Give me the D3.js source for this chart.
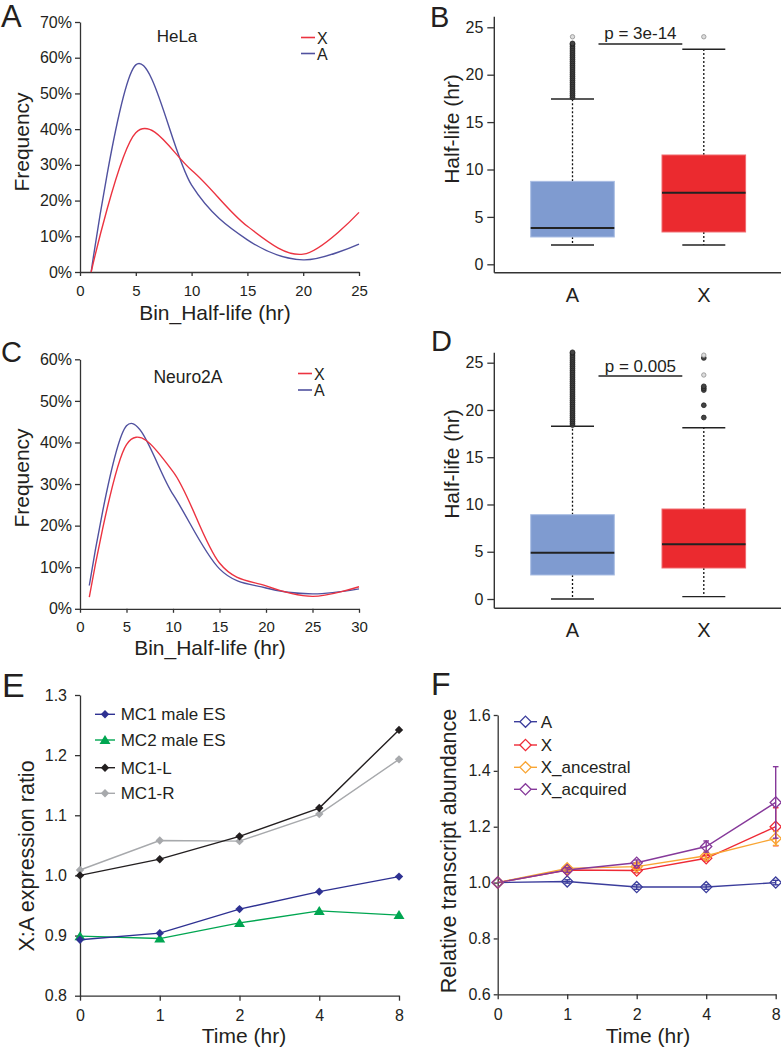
<!DOCTYPE html>
<html><head><meta charset="utf-8">
<script src="https://cdn.jsdelivr.net/npm/d3@7"></script>
<style>body{margin:0;background:#fff} svg{display:block}</style>
</head><body><svg id="c" width="781" height="1050"></svg>
<script>
// ---------- DATA ----------
// Panel A (HeLa) frequency curves
const helaBins = [1, 5, 10, 15, 20, 25];
const helaX = [0, 39, 28.5, 12.8, 5.0, 16.7];
const helaA = [0, 58, 24.3, 9.0, 3.4, 7.8];
const helaXTicks = [0, 5, 10, 15, 20, 25];
const helaYTicks = [0, 10, 20, 30, 40, 50, 60, 70];
// Panel C (Neuro2A)
const neuroBins = [1, 5, 10, 15, 20, 25, 30];
const neuroX = [2.8, 39.5, 33, 11, 5.5, 3.0, 5.3];
const neuroA = [5.6, 44, 27.5, 9.6, 5.0, 3.6, 4.8];
const neuroXTicks = [0, 5, 10, 15, 20, 25, 30];
const neuroYTicks = [0, 10, 20, 30, 40, 50, 60];
// Panel B box stats (A, X)
const boxGroups = ["A", "X"];
const hLow = [2.04, 2.04], hQ1 = [2.88, 3.41], hMed = [3.83, 7.56], hQ3 = [8.75, 11.53], hHigh = [17.44, 22.68];
const hOutA = [17.6,17.8,18.0,18.2,18.4,18.6,18.8,19.0,19.2,19.4,19.6,19.8,20.0,20.2,20.4,20.6,20.8,21.0,21.2,21.4,21.6,21.8,22.0,22.2,22.4,22.6,22.8,23.0,23.2,23.3];
const hOutALight = [24.0];
const hOutX = [];
const hOutXLight = [24.0];
const hP = 23.24, hPText = "p = 3e-14";
// Panel D box stats
const nLow = [0, 0.25], nQ1 = [2.54, 3.28], nMed = [4.9, 5.78], nQ3 = [8.92, 9.52], nHigh = [18.27, 18.12];
const nOutA = [18.4,18.6,18.8,19.0,19.2,19.4,19.6,19.8,20.0,20.2,20.4,20.6,20.8,21.0,21.2,21.4,21.6,21.8,22.0,22.2,22.4,22.6,22.8,23.0,23.2,23.4,23.6,23.8,24.0,24.2,24.4,24.6,24.8,25.0,25.2,25.4,25.6,25.8,26.0,26.1];
const nOutALight = [];
const nOutX = [19.2, 20.5, 22.1, 22.3, 22.5, 25.5];
const nOutXLight = [23.7, 25.8];
const nP = 23.59, nPText = "p = 0.005";
const boxYTicks = [0, 5, 10, 15, 20, 25];
// Panel E
const times = ["0", "1", "2", "4", "8"];
const eNames = ["MC1 male ES", "MC2 male ES", "MC1-L", "MC1-R"];
const mc1Male = [0.893, 0.904, 0.944, 0.973, 0.998];
const mc2Male = [0.899, 0.895, 0.921, 0.941, 0.934];
const mc1L = [1.000, 1.027, 1.065, 1.112, 1.242];
const mc1R = [1.009, 1.058, 1.057, 1.102, 1.193];
const eYTicks = [0.8, 0.9, 1.0, 1.1, 1.2, 1.3];
// Panel F
const fNames = ["A", "X", "X_ancestral", "X_acquired"];
const fA = [1.0, 1.004, 0.984, 0.984, 1.0];
const fX = [1.0, 1.045, 1.043, 1.087, 1.2];
const fXanc = [1.0, 1.051, 1.057, 1.096, 1.158];
const fXacq = [1.0, 1.045, 1.071, 1.129, 1.287];
const fAErr = [0, 0.006, 0.008, 0.008, 0.008];
const fXErr = [0, 0.008, 0.008, 0.01, 0.068];
const fXancErr = [0, 0.01, 0.01, 0.01, 0.025];
const fXacqErr = [0, 0.008, 0.01, 0.02, 0.128];
const fYTicks = [0.6, 0.8, 1.0, 1.2, 1.4, 1.6];

// ---------- STYLE ----------
const FONT = "'Liberation Sans', Arial, Helvetica, sans-serif";
const INK = "#231f20", AX = "#333";
const RED = "#ec3340", BLUE = "#50519f";
const svg = d3.select("#c");

function styleAxis(g, fs) {
  g.attr("font-family", FONT).attr("font-size", fs);
  g.selectAll("path.domain").attr("stroke", AX).attr("stroke-width", 1.3);
  g.selectAll(".tick line").attr("stroke", AX).attr("stroke-width", 1.3);
  g.selectAll(".tick text").attr("fill", INK);
}
function txt(x, y, s, fs, anchor) {
  return svg.append("text").attr("x", x).attr("y", y).text(s)
    .attr("font-family", FONT).attr("font-size", fs).attr("fill", INK)
    .attr("text-anchor", anchor || "start");
}
function vlabel(x, y, s, fs) {
  svg.append("text").attr("transform", `translate(${x},${y}) rotate(-90)`)
    .attr("text-anchor", "middle").attr("font-family", FONT).attr("font-size", fs)
    .attr("fill", INK).text(s);
}

// panel letters
txt(1, 27, "A", 31); txt(430, 27, "B", 29);
txt(1, 362, "C", 29); txt(431, 351, "D", 29);
txt(2, 697, "E", 34); txt(431, 695, "F", 32);

// ---------- FREQUENCY PANELS ----------
function freqPanel(o) {
  const x = d3.scaleLinear().domain(o.xDom).range(o.xRange);
  const y = d3.scaleLinear().domain(o.yDom).range(o.yRange);
  const gx = svg.append("g").attr("transform", `translate(0,${o.yRange[0]})`)
    .call(d3.axisBottom(x).tickValues(o.xTicks).tickSize(4).tickPadding(9).tickSizeOuter(0));
  styleAxis(gx, 15);
  const gy = svg.append("g").attr("transform", `translate(${o.xRange[0]},0)`)
    .call(d3.axisLeft(y).tickValues(o.yTicks).tickFormat(d => d + "%").tickSize(5).tickPadding(3).tickSizeOuter(0));
  styleAxis(gy, 16);
  const line = d3.line().x((d, i) => x(o.bins[i])).y(d => y(d)).curve(d3.curveCatmullRom.alpha(0));
  svg.append("path").attr("d", line(o.A)).attr("fill", "none").attr("stroke", BLUE).attr("stroke-width", 1.4);
  svg.append("path").attr("d", line(o.X)).attr("fill", "none").attr("stroke", RED).attr("stroke-width", 1.4);
  txt(o.title[0], o.title[1], o.titleText, o.titleFs, "middle");
  const L = o.legend;
  [["X", RED], ["A", BLUE]].forEach((s, i) => {
    const yy = L.y + i * L.dy;
    svg.append("line").attr("x1", L.x).attr("x2", L.x + 14).attr("y1", yy).attr("y2", yy)
      .attr("stroke", s[1]).attr("stroke-width", 1.6);
    txt(L.x + 16, yy + 6, s[0], 16);
  });
  txt(o.xlab[0], o.xlab[1], "Bin_Half-life (hr)", 21, "middle");
  vlabel(o.ylab[0], o.ylab[1], "Frequency", 21);
}
freqPanel({xDom: [0, 25], xRange: [80, 359], yDom: [0, 70], yRange: [272, 22],
  xTicks: helaXTicks, yTicks: helaYTicks, bins: helaBins, X: helaX, A: helaA,
  title: [177, 41.5], titleText: "HeLa", titleFs: 17, legend: {x: 301, y: 37.5, dy: 16},
  xlab: [215, 320], ylab: [28.5, 142]});
freqPanel({xDom: [0, 30], xRange: [80, 359], yDom: [0, 60], yRange: [608.8, 359.3],
  xTicks: neuroXTicks, yTicks: neuroYTicks, bins: neuroBins, X: neuroX, A: neuroA,
  title: [188, 383], titleText: "Neuro2A", titleFs: 17.5, legend: {x: 298, y: 373.5, dy: 16.5},
  xlab: [210, 655], ylab: [28.5, 478]});

// ---------- BOX PANELS ----------
function boxPanel(o) {
  const axX = 494.3;
  const y = d3.scaleLinear().domain([0, 25]).range(o.yRange);
  const x = d3.scalePoint().domain(boxGroups).range([572.5, 703.8]);
  const half = 41.8, cap = 21.5;
  const gy = svg.append("g").attr("transform", `translate(${axX},0)`)
    .call(d3.axisLeft(y).tickValues(boxYTicks).tickSize(7).tickPadding(4));
  gy.select("path.domain").remove();
  styleAxis(gy, 16);
  svg.append("line").attr("x1", axX).attr("x2", axX).attr("y1", o.top).attr("y2", o.bottom)
    .attr("stroke", AX).attr("stroke-width", 1.4);
  svg.append("line").attr("x1", axX).attr("x2", 781).attr("y1", o.bottom).attr("y2", o.bottom)
    .attr("stroke", AX).attr("stroke-width", 1.4);
  const fills = ["#7f9bd0", "#eb2a2f"], strokes = ["#a9bde3", "#f06a6e"];
  boxGroups.forEach((g, i) => {
    const cx = x(g);
    svg.append("line").attr("x1", cx).attr("x2", cx).attr("y1", y(o.q3[i])).attr("y2", y(o.high[i]))
      .attr("stroke", "#111").attr("stroke-width", 1.3).attr("stroke-dasharray", "2,2");
    svg.append("line").attr("x1", cx).attr("x2", cx).attr("y1", y(o.q1[i])).attr("y2", y(o.low[i]))
      .attr("stroke", "#111").attr("stroke-width", 1.3).attr("stroke-dasharray", "2,2");
    [o.high[i], o.low[i]].forEach(v => svg.append("line").attr("x1", cx - cap).attr("x2", cx + cap)
      .attr("y1", y(v)).attr("y2", y(v)).attr("stroke", "#222").attr("stroke-width", 1.4));
    svg.append("rect").attr("x", cx - half).attr("width", 2 * half)
      .attr("y", y(o.q3[i])).attr("height", y(o.q1[i]) - y(o.q3[i]))
      .attr("fill", fills[i]).attr("stroke", strokes[i]).attr("stroke-width", 1);
    svg.append("line").attr("x1", cx - half).attr("x2", cx + half).attr("y1", y(o.med[i])).attr("y2", y(o.med[i]))
      .attr("stroke", "#222").attr("stroke-width", 2);
    o.out[i].forEach(v => svg.append("circle").attr("cx", cx).attr("cy", y(v)).attr("r", 2.4)
      .attr("fill", "#444").attr("stroke", "#222").attr("stroke-width", 0.8));
    o.outLight[i].forEach(v => svg.append("circle").attr("cx", cx).attr("cy", y(v)).attr("r", 2.2)
      .attr("fill", "#ddd").attr("stroke", "#999").attr("stroke-width", 0.9));
    txt(cx, o.bottom + 29, g, 20, "middle");
  });
  const x1 = x("A") + cap + 4.5, x2 = x("X") - cap;
  svg.append("line").attr("x1", x1).attr("x2", x2).attr("y1", y(o.p)).attr("y2", y(o.p))
    .attr("stroke", "#222").attr("stroke-width", 1.4);
  txt((x1 + x2) / 2, y(o.p) - 4.5, o.pText, 17, "middle");
  vlabel(458.5, o.ylabY, "Half-life (hr)", 21);
}
boxPanel({yRange: [264.3, 27.3], top: 16.7, bottom: 272.7, low: hLow, q1: hQ1, med: hMed, q3: hQ3, high: hHigh,
  out: [hOutA, hOutX], outLight: [hOutALight, hOutXLight], p: hP, pText: hPText, ylabY: 129});
boxPanel({yRange: [599, 362.7], top: 352.7, bottom: 608.3, low: nLow, q1: nQ1, med: nMed, q3: nQ3, high: nHigh,
  out: [nOutA, nOutX], outLight: [nOutALight, nOutXLight], p: nP, pText: nPText, ylabY: 464});

// ---------- TIME PANELS ----------
function diamond(r) { return `M0,${-r}L${r},0L0,${r}L${-r},0Z`; }
function triangle(r) { return `M0,${-r}L${r * 1.1},${r * 0.8}L${-r * 1.1},${r * 0.8}Z`; }

// Panel E
(function () {
  const x = d3.scalePoint().domain(times).range([80, 399]);
  const y = d3.scaleLinear().domain([0.8, 1.3]).range([995.7, 695]);
  const gx = svg.append("g").attr("transform", `translate(0,995.7)`)
    .call(d3.axisBottom(x).tickSize(5).tickPadding(9).tickSizeOuter(0));
  styleAxis(gx, 16);
  const gy = svg.append("g").attr("transform", `translate(80,0)`)
    .call(d3.axisLeft(y).tickValues(eYTicks).tickFormat(d3.format(".1f")).tickSize(5).tickPadding(8).tickSizeOuter(0));
  styleAxis(gy, 16);
  const series = [
    {name: eNames[0], v: mc1Male, c: "#2e3192", m: diamond(4.2)},
    {name: eNames[1], v: mc2Male, c: "#00a651", m: triangle(5)},
    {name: eNames[2], v: mc1L, c: "#231f20", m: diamond(4.2)},
    {name: eNames[3], v: mc1R, c: "#a7a9ac", m: diamond(4.2)}
  ];
  const line = d3.line().x((d, i) => x(times[i])).y(d => y(d));
  [3, 2, 1, 0].forEach(k => {
    const s = series[k];
    svg.append("path").attr("d", line(s.v)).attr("fill", "none").attr("stroke", s.c).attr("stroke-width", 1.4);
    s.v.forEach((v, i) => svg.append("path").attr("d", s.m)
      .attr("transform", `translate(${x(times[i])},${y(v)})`).attr("fill", s.c));
  });
  const rows = [714.3, 740, 767.7, 793.3];
  series.forEach((s, i) => {
    svg.append("line").attr("x1", 95).attr("x2", 115).attr("y1", rows[i]).attr("y2", rows[i])
      .attr("stroke", s.c).attr("stroke-width", 1.4);
    svg.append("path").attr("d", s.m).attr("transform", `translate(105,${rows[i]})`).attr("fill", s.c);
    txt(120.7, rows[i] + 6, s.name, 17);
  });
  txt(244, 1043, "Time (hr)", 21, "middle");
  vlabel(33.5, 856, "X:A expression ratio", 21.5);
})();

// Panel F
(function () {
  const x = d3.scalePoint().domain(times).range([497.7, 775.7]);
  const y = d3.scaleLinear().domain([0.6, 1.6]).range([994.3, 715]);
  const gx = svg.append("g").attr("transform", `translate(0,994.3)`)
    .call(d3.axisBottom(x).tickSize(5).tickPadding(9).tickSizeOuter(0));
  styleAxis(gx, 16);
  const gy = svg.append("g").attr("transform", `translate(497.7,0)`)
    .call(d3.axisLeft(y).tickValues(fYTicks).tickFormat(d3.format(".1f")).tickSize(4).tickPadding(3).tickSizeOuter(0));
  styleAxis(gy, 16);
  const series = [
    {name: fNames[0], v: fA, e: fAErr, c: "#3b3d9c"},
    {name: fNames[1], v: fX, e: fXErr, c: "#ee2a36"},
    {name: fNames[2], v: fXanc, e: fXancErr, c: "#f9a533"},
    {name: fNames[3], v: fXacq, e: fXacqErr, c: "#86399a"}
  ];
  const line = d3.line().x((d, i) => x(times[i])).y(d => y(d));
  series.forEach(s => {
    svg.append("path").attr("d", line(s.v)).attr("fill", "none").attr("stroke", s.c).attr("stroke-width", 1.4);
  });
  series.forEach(s => {
    s.v.forEach((v, i) => {
      const cx = x(times[i]);
      if (s.e[i] > 0) {
        svg.append("line").attr("x1", cx).attr("x2", cx).attr("y1", y(v - s.e[i])).attr("y2", y(v + s.e[i]))
          .attr("stroke", s.c).attr("stroke-width", 1.4);
        [v - s.e[i], v + s.e[i]].forEach(b => svg.append("line").attr("x1", cx - 2.8).attr("x2", cx + 2.8)
          .attr("y1", y(b)).attr("y2", y(b)).attr("stroke", s.c).attr("stroke-width", 1.4));
      }
      svg.append("path").attr("d", diamond(5.6)).attr("transform", `translate(${cx},${y(v)})`)
        .attr("fill", "none").attr("stroke", s.c).attr("stroke-width", 1.3);
    });
  });
  const rows = [721.7, 745, 767.3, 789.3];
  series.forEach((s, i) => {
    svg.append("line").attr("x1", 514).attr("x2", 519.9).attr("y1", rows[i]).attr("y2", rows[i])
      .attr("stroke", s.c).attr("stroke-width", 1.4);
    svg.append("line").attr("x1", 531.1).attr("x2", 537).attr("y1", rows[i]).attr("y2", rows[i])
      .attr("stroke", s.c).attr("stroke-width", 1.4);
    svg.append("path").attr("d", diamond(5.6)).attr("transform", `translate(525.5,${rows[i]})`)
      .attr("fill", "none").attr("stroke", s.c).attr("stroke-width", 1.3);
    txt(540.7, rows[i] + 6, s.name, 17);
  });
  txt(648, 1043, "Time (hr)", 21, "middle");
  vlabel(455.5, 851, "Relative transcript abundance", 21.5);
})();
</script></body></html>
